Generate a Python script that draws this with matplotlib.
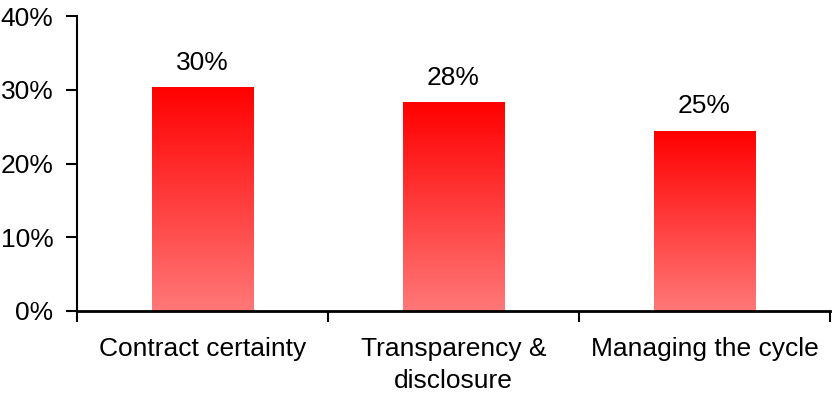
import numpy as np
import matplotlib.pyplot as plt
from matplotlib.colors import LinearSegmentedColormap

plt.rcParams['font.family'] = ['Liberation Sans', 'DejaVu Sans']

categories = ['Contract certainty', 'Transparency &\ndisclosure', 'Managing the cycle']
values = [30.3, 28.3, 24.4]
labels = ['30%', '28%', '25%']

fig = plt.figure(figsize=(8.33, 3.95), dpi=100)
ax = fig.add_axes([77/833, 1 - 311/395, 753/833, 295/395])

cmap = LinearSegmentedColormap.from_list('redfade', ['#ff7878', '#ff0000'])
grad = np.linspace(0, 1, 256).reshape(-1, 1)

width = 0.405
x = np.arange(len(categories)) + 0.5
bars = ax.bar(x, values, width=width, color='none', edgecolor='none')
for b in bars:
    x0, y0 = b.get_x(), b.get_y()
    ax.imshow(grad, cmap=cmap, aspect='auto', origin='lower',
              extent=[x0, x0 + b.get_width(), y0, y0 + b.get_height()], zorder=2)

for xi, v, lab in zip(x, values, labels):
    ax.text(xi, v + 2.4, lab, ha='center', va='baseline', fontsize=19)

ax.set_xlim(0, 3)
ax.set_ylim(0, 40)
ax.set_yticks([0, 10, 20, 30, 40])
ax.set_yticklabels(['0%', '10%', '20%', '30%', '40%'], fontsize=19)
ax.set_xticks([0, 1, 2, 3])
ax.set_xticklabels([])
ax.set_xticks(x, minor=True)
ax.set_xticklabels(categories, minor=True, fontsize=19, va='top', linespacing=1.4)
ax.tick_params(axis='x', which='minor', length=0, pad=19)
ax.tick_params(axis='x', which='major', length=8, width=1.5, direction='out')
ax.tick_params(axis='y', length=8, width=1.5, direction='out', pad=9)

ax.spines['top'].set_visible(False)
ax.spines['right'].set_visible(False)
ax.spines['left'].set_linewidth(1.5)
ax.spines['bottom'].set_linewidth(2)

fig.savefig('out.png', dpi=100)
